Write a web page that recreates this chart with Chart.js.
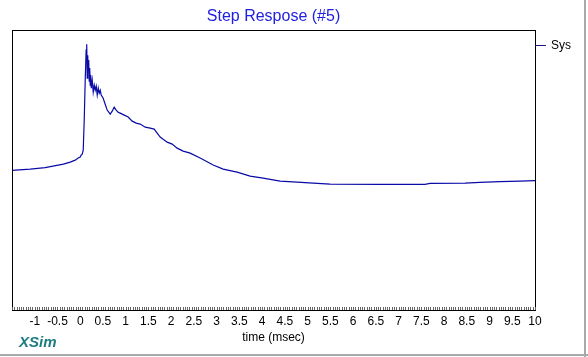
<!DOCTYPE html>
<html>
<head>
<meta charset="utf-8">
<script src="https://cdn.jsdelivr.net/npm/chart.js@4"></script>
<style>
  html, body { margin: 0; padding: 0; background: #fff; }
  #wrap { position: relative; width: 588px; height: 357px; overflow: hidden; }
  #frameR { position: absolute; left: 584px; top: 0; width: 2px; height: 357px; background: #a9a9a9; }
  #frameB { position: absolute; left: 0; top: 354px; width: 588px; height: 2px; background: #a9a9a9; }
  #xsim { position: absolute; left: 19px; top: 333px; font: italic bold 15px "Liberation Sans", Arial, sans-serif; color: #1b7d80; }
</style>
</head>
<body>
<div id="wrap">
  <canvas id="c" width="588" height="357"></canvas>
  <div id="frameR"></div>
  <div id="frameB"></div>
  <div id="xsim">XSim</div>
</div>
<script>
const chartTitle = "Step Respose (#5)";
const seriesName = "Sys";
const xAxisTitle = "time (msec)";
const xRange = [-1.5, 10];
const yRange = [-1, 1];
const tickStep = 0.5;

const timeMs = [
  -1.5, -1.1, -0.77, -0.37, -0.22, -0.11, -0.044, 0, 0.02, 0.044, 0.066, 0.088, 0.11, 0.13, 0.143,
  0.154, 0.165, 0.176, 0.187, 0.198, 0.209, 0.22, 0.231, 0.242, 0.264, 0.286, 0.308, 0.33, 0.352,
  0.374, 0.396, 0.418, 0.44, 0.462, 0.505, 0.549, 0.593, 0.659, 0.703, 0.747, 0.791, 0.835, 0.879,
  0.967, 1.055, 1.143, 1.231, 1.319, 1.429, 1.538, 1.626, 1.758, 1.912, 2.022, 2.132, 2.264, 2.418,
  2.637, 2.923, 3.143, 3.451, 3.736, 4.022, 4.396, 4.769, 5.121, 5.495, 6.593, 7.582, 7.692, 8.462,
  8.79, 9.231, 9.67, 10
];
const response = [
  -0.002, 0.007, 0.018, 0.043, 0.057, 0.071, 0.086, 0.093, 0.107, 0.114, 0.143, 0.357, 0.643, 0.857, 0.9,
  0.657, 0.821, 0.714, 0.786, 0.636, 0.729, 0.607, 0.679, 0.586, 0.643, 0.557, 0.607, 0.571, 0.6,
  0.536, 0.586, 0.55, 0.571, 0.536, 0.514, 0.471, 0.429, 0.4, 0.421, 0.45, 0.429, 0.414, 0.407,
  0.393, 0.379, 0.35, 0.336, 0.329, 0.307, 0.3, 0.293, 0.236, 0.2, 0.186, 0.157, 0.136, 0.121,
  0.086, 0.036, 0.007, -0.014, -0.043, -0.057, -0.079, -0.086, -0.093, -0.1, -0.102, -0.102, -0.095, -0.093,
  -0.088, -0.082, -0.079, -0.075
];

const lineColor = '#0a0aa8';
const points = timeMs.map((t, i) => ({ x: t, y: response[i] }));

const framePlugin = {
  id: 'frame',
  afterDraw(chart) {
    const { ctx, chartArea: a, scales } = chart;
    const xs = scales.x;
    ctx.save();
    ctx.strokeStyle = '#000';
    ctx.lineWidth = 1;
    ctx.strokeRect(Math.round(a.left) + 0.5, Math.round(a.top) + 0.5,
                   Math.round(a.right - a.left), Math.round(a.bottom - a.top));
    ctx.strokeStyle = '#666';
    ctx.beginPath();
    const n = Math.round((xRange[1] - xRange[0]) / 0.05);
    for (let i = 0; i <= n; i++) {
      const v = xRange[0] + i * 0.05;
      const px = Math.round(xs.getPixelForValue(v)) + 0.5;
      ctx.moveTo(px, Math.round(a.bottom));
      ctx.lineTo(px, Math.round(a.bottom) - 3);
    }
    ctx.stroke();
    const ly = Math.round(a.top + 15) + 0.5;
    ctx.strokeStyle = '#1a1a80';
    ctx.beginPath();
    ctx.moveTo(Math.round(a.right), ly);
    ctx.lineTo(Math.round(a.right) + 11, ly);
    ctx.stroke();
    ctx.fillStyle = '#000';
    ctx.font = '12px "Liberation Sans", Arial, sans-serif';
    ctx.textBaseline = 'middle';
    ctx.textAlign = 'left';
    ctx.fillText(seriesName, Math.round(a.right) + 16, ly);
    ctx.restore();
  }
};

new Chart(document.getElementById('c'), {
  type: 'line',
  data: {
    datasets: [{
      label: seriesName,
      data: points,
      borderColor: lineColor,
      borderWidth: 1.2,
      pointRadius: 0,
      tension: 0,
      fill: false
    }]
  },
  options: {
    responsive: false,
    animation: false,
    events: [],
    layout: { padding: { left: 12, right: 53, top: 0, bottom: 0 } },
    plugins: {
      legend: { display: false },
      tooltip: { enabled: false },
      title: {
        display: true,
        text: chartTitle,
        color: '#2020e0',
        font: { family: '"Liberation Sans", Arial, sans-serif', size: 16, weight: 'normal' },
        padding: { top: 7, bottom: 4 }
      }
    },
    scales: {
      x: {
        type: 'linear',
        min: xRange[0],
        max: xRange[1],
        grid: { display: false },
        border: { display: false },
        afterFit(scale) { scale.height = 47; },
        ticks: {
          stepSize: tickStep,
          autoSkip: false,
          maxRotation: 0,
          padding: -4,
          color: '#000',
          font: { family: '"Liberation Sans", Arial, sans-serif', size: 12 },
          callback(v) { return v <= xRange[0] + 1e-9 ? '' : String(Math.round(v * 10) / 10); }
        },
        title: {
          display: true,
          text: xAxisTitle,
          color: '#000',
          font: { family: '"Liberation Sans", Arial, sans-serif', size: 12 },
          padding: { top: 0, bottom: 12 }
        }
      },
      y: {
        type: 'linear',
        min: yRange[0],
        max: yRange[1],
        display: false
      }
    }
  },
  plugins: [framePlugin]
});
</script>
</body>
</html>
